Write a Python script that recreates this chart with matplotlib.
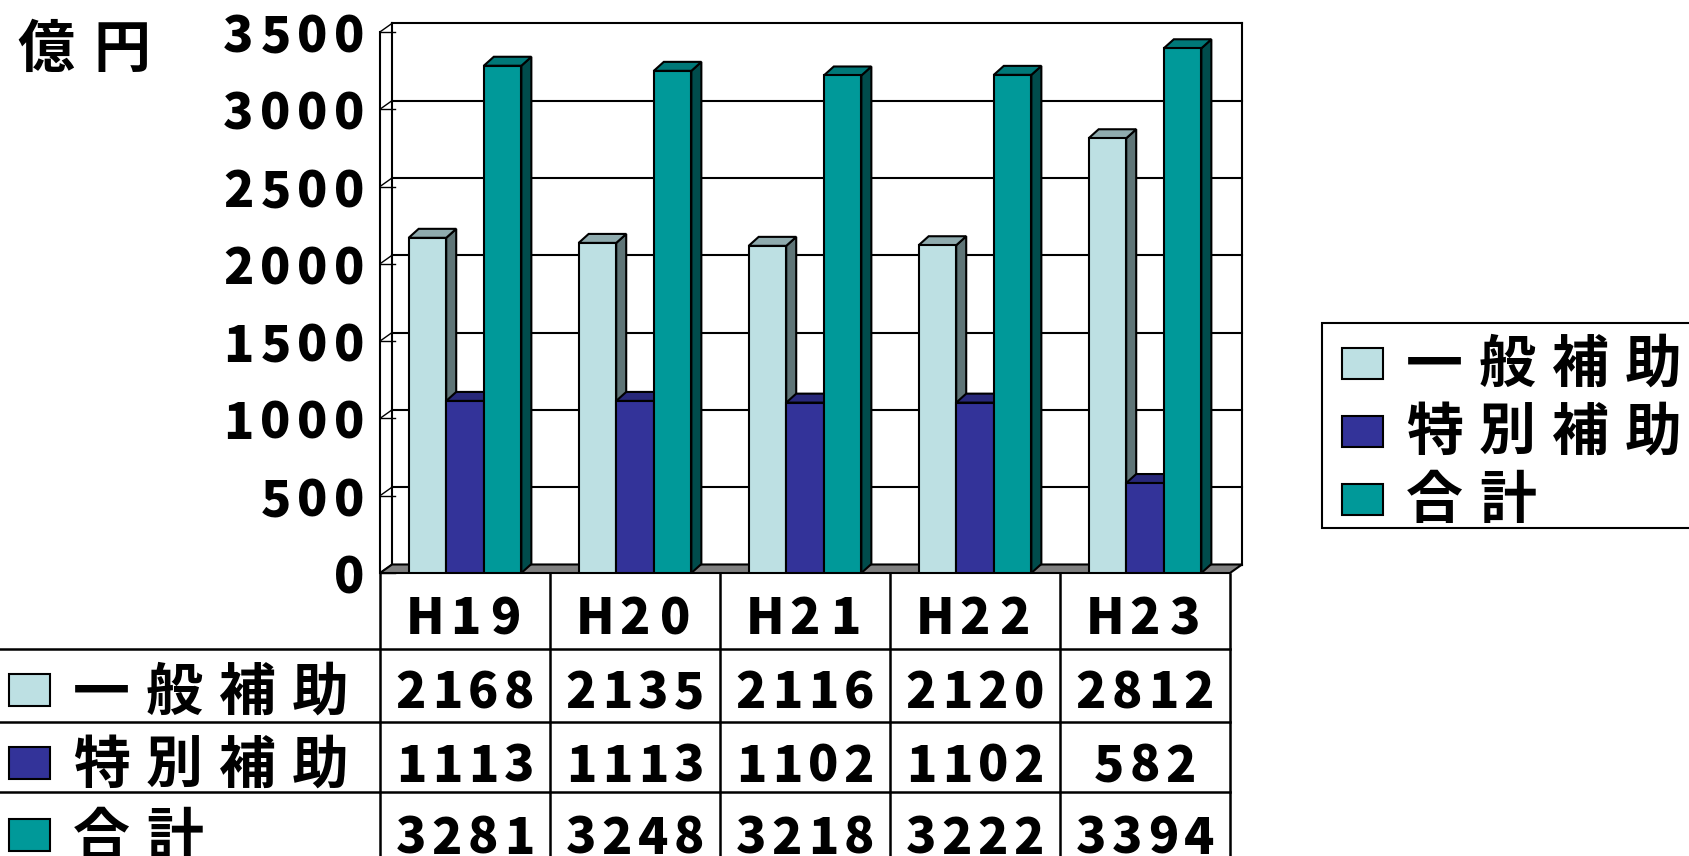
import matplotlib.pyplot as plt
from matplotlib.patches import Polygon, Rectangle
from matplotlib.lines import Line2D

plt.rcParams['font.family'] = ['Noto Sans CJK JP', 'DejaVu Sans']

# 補助金の推移（億円）
years = ['H19', 'H20', 'H21', 'H22', 'H23']
general = [2168, 2135, 2116, 2120, 2812]
special = [1113, 1113, 1102, 1102, 582]
total = [3281, 3248, 3218, 3222, 3394]
series_names = ['一般補助', '特別補助', '合計']
y_ticks = [0, 500, 1000, 1500, 2000, 2500, 3000, 3500]

front_colors = ['#BDE0E3', '#333399', '#009999']
top_colors = ['#8FABAE', '#28287A', '#007878']
side_colors = ['#5F7577', '#1E1E5C', '#004C4C']

W, H = 1689, 856
fig = plt.figure(figsize=(W / 100, H / 100), dpi=100)

# front plane of the 3D plot: value 0 sits at pixel row 573
px_per_val = 0.1546
ax_left, ax_right, ax_base = 380, 1230, 573
ymax = 3600
ax = fig.add_axes([ax_left / W, (H - ax_base) / H,
                   (ax_right - ax_left) / W, ymax * px_per_val / H])
ax.set_xlim(-0.5, len(years) - 0.5)
ax.set_ylim(0, ymax)
ax.axis('off')

cat_px = (ax_right - ax_left) / len(years)
dxb, dyb = 10 / cat_px, 9 / px_per_val      # bar depth
dxw, dyw = 12 / cat_px, 8.5 / px_per_val    # wall depth
x_lo, x_hi = -0.5, len(years) - 0.5
top = y_ticks[-1]


def line(xs, ys, lw=1.5, z=1):
    ax.add_line(Line2D(xs, ys, color='black', lw=lw, zorder=z, clip_on=False))


# floor slab
ax.add_patch(Polygon([(x_lo, 0), (x_hi, 0), (x_hi + dxw, dyw), (x_lo + dxw, dyw)],
                     closed=True, fc='#808080', ec='black', lw=1.5, zorder=2, clip_on=False))

# back wall, side wall and gridlines
for v in y_ticks:
    line([x_lo + dxw, x_hi + dxw], [v + dyw, v + dyw])
    line([x_lo, x_lo + dxw], [v, v + dyw], lw=1.0)
    line([x_lo, x_lo + 15 / cat_px], [v, v], lw=1.0)
line([x_lo + dxw, x_lo + dxw], [dyw, top + dyw])
line([x_hi + dxw, x_hi + dxw], [dyw, top + dyw])
line([x_lo, x_lo], [0, top], z=3)

# bars with top and side faces
w = 0.221
for j, vals in enumerate([general, special, total]):
    xs = [i + (j - 1) * w for i in range(len(years))]
    ax.bar(xs, vals, width=w, color=front_colors[j], edgecolor='black',
           linewidth=1.5, zorder=12 + 3 * j)
    for x, v in zip(xs, vals):
        x0, x1 = x - w / 2, x + w / 2
        ax.add_patch(Polygon([(x1, 0), (x1, v), (x1 + dxb, v + dyb), (x1 + dxb, dyb)],
                             closed=True, fc=side_colors[j], ec='black', lw=1.5,
                             zorder=10 + 3 * j, clip_on=False))
        ax.add_patch(Polygon([(x0, v), (x1, v), (x1 + dxb, v + dyb), (x0 + dxb, v + dyb)],
                             closed=True, fc=top_colors[j], ec='black', lw=1.5,
                             zorder=11 + 3 * j, clip_on=False))

NUM_SIZE, JP_SIZE = 36, 41


def spaced(x, y, s, step, ha='center', size=NUM_SIZE, weight='heavy'):
    # draw a string char by char with wide tracking; x, y in pixels from top-left
    n = len(s)
    if ha == 'center':
        x0 = x - step * n / 2
    elif ha == 'right':
        x0 = x - step * n
    else:
        x0 = x
    base = y + 0.37 * size * 100 / 72
    for k, ch in enumerate(s):
        fig.text((x0 + step * (k + 0.5)) / W, 1 - base / H, ch, ha='center',
                 va='baseline', fontsize=size, fontweight=weight)


def to_px(x, v):
    dx, dy = ax.transData.transform((x, v))
    return dx, H - dy


# y tick labels
for v in y_ticks:
    _, ypx = to_px(x_lo, v)
    spaced(368, ypx + 2, str(v), 37, ha='right')

spaced(8, 46, '億円', 76, ha='left', size=JP_SIZE, weight='bold')

# data table
row_lines = [649, 722, 792]
table_top = ax_base + 1
for i in range(len(years) + 1):
    xp, _ = to_px(i - 0.5, 0)
    fig.add_artist(Line2D([xp / W, xp / W], [1 - table_top / H, 0], color='black', lw=1.8))
for yp in row_lines:
    fig.add_artist(Line2D([0, ax_right / W], [1 - yp / H, 1 - yp / H], color='black', lw=1.8))

header_y = 616
row_y = [690, 763, 835]
for i, yr in enumerate(years):
    xp, _ = to_px(i, 0)
    spaced(xp, header_y, yr, 40)
    for r, vals in enumerate([general, special, total]):
        spaced(xp, row_y[r], str(vals[i]), 36)

for r, name in enumerate(series_names):
    fig.add_artist(Rectangle((9 / W, 1 - (row_y[r] + 16) / H), 41 / W, 32 / H,
                             fc=front_colors[r], ec='black', lw=1.5))
    spaced(65, row_y[r] - 1, name, 73, ha='left', size=JP_SIZE, weight='bold')

# legend
fig.add_artist(Rectangle((1322 / W, 1 - 528 / H), 400 / W, 205 / H,
                         fc='white', ec='black', lw=1.5))
leg_y = [363, 431, 499]
for r, name in enumerate(series_names):
    fig.add_artist(Rectangle((1342 / W, 1 - (leg_y[r] + 16) / H), 41 / W, 31 / H,
                             fc=front_colors[r], ec='black', lw=1.5))
    spaced(1398, leg_y[r] - 2, name, 73, ha='left', size=JP_SIZE, weight='bold')

fig.savefig('out.png', dpi=100)
